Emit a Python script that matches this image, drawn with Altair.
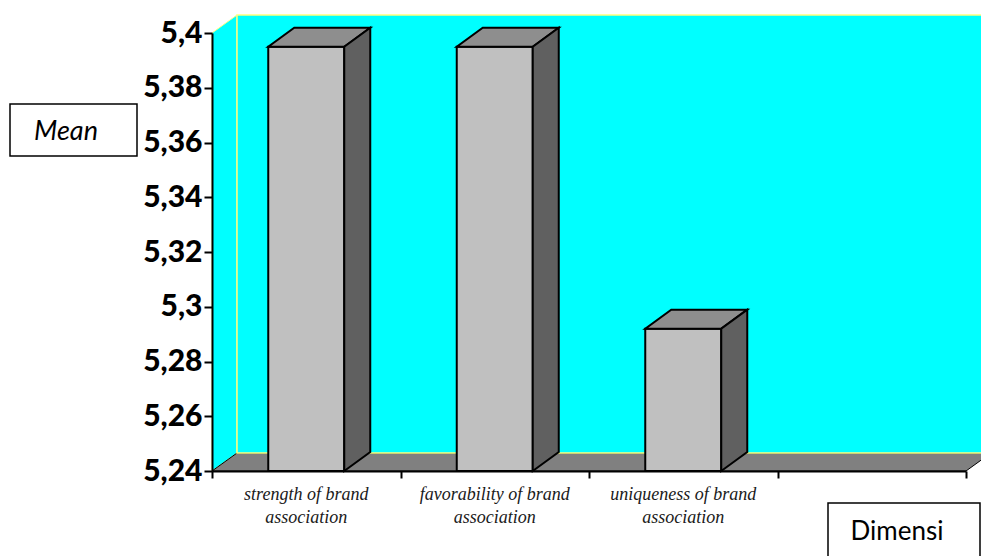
import altair as alt
import pandas as pd

# ---- data -------------------------------------------------------------
label_line1 = ["strength of brand", "favorability of brand", "uniqueness of brand"]
label_line2 = ["association", "association", "association"]
mean_values = [5.395, 5.395, 5.292]
y_ticks = [5.24, 5.26, 5.28, 5.30, 5.32, 5.34, 5.36, 5.38, 5.40]
slot_edges = [0, 1, 2, 3, 4]          # four category slots, the last one empty

# ---- geometry ---------------------------------------------------------
Y_MIN, Y_MAX = 5.24, 5.40
N_SLOTS = 4
PLOT_W, PLOT_H = 754, 438


def px_x(p):
    return p * N_SLOTS / PLOT_W


def px_y(p):
    return p * (Y_MAX - Y_MIN) / PLOT_H


WALL_DX, WALL_DY = px_x(25), px_y(18)
BAR_DX, BAR_DY = px_x(26), px_y(19)
BAR_HALF = px_x(38)

FRONT = "#C0C0C0"
TOP = "#8E8E8E"
SIDE = "#606060"
FLOOR = "#808080"
WALL = "#00FFFF"
EDGE = "#FFFF80"

x_scale = alt.Scale(domain=[0, N_SLOTS], nice=False, zero=False)
y_scale = alt.Scale(domain=[Y_MIN, Y_MAX], nice=False, zero=False)


def X(field="x"):
    return alt.X(f"{field}:Q", scale=x_scale, title=None,
                 axis=alt.Axis(values=slot_edges, labels=False, grid=False,
                               tickSize=7, tickWidth=2, tickColor="black",
                               domainColor="black", domainWidth=2, zindex=1))


def Y(field="y"):
    return alt.Y(f"{field}:Q", scale=y_scale, title=None,
                 axis=alt.Axis(values=y_ticks, grid=False,
                               labelExpr="replace(format(datum.value, '.2~f'), '.', ',')",
                               labelFont="Lato", labelFontWeight=900,
                               labelFontSize=30, labelColor="black",
                               labelPadding=2,
                               tickSize=8, tickWidth=2, tickColor="black",
                               domainColor="black", domainWidth=2, zindex=1))


# ---- room: side wall, floor, back wall --------------------------------
side_wall = pd.DataFrame({
    "x": [0, WALL_DX],
    "y": [Y_MIN, Y_MIN + WALL_DY],
    "y2": [Y_MAX, Y_MAX + WALL_DY],
})
floor = pd.DataFrame({
    "x": [0, WALL_DX, N_SLOTS, N_SLOTS + WALL_DX],
    "y": [Y_MIN, Y_MIN, Y_MIN, Y_MIN + WALL_DY],
    "y2": [Y_MIN, Y_MIN + WALL_DY, Y_MIN + WALL_DY, Y_MIN + WALL_DY],
})
back_wall = pd.DataFrame({
    "x": [WALL_DX], "x2": [N_SLOTS + WALL_DX],
    "y": [Y_MIN + WALL_DY], "y2": [Y_MAX + WALL_DY],
})

side_wall_layer = alt.Chart(side_wall).mark_area(
    fill=WALL, stroke=EDGE, strokeWidth=1
).encode(x=X(), y=Y(), y2="y2:Q")

floor_layer = alt.Chart(floor).mark_area(
    fill=FLOOR, stroke="black", strokeWidth=1
).encode(x=X(), y=Y(), y2="y2:Q")

back_wall_layer = alt.Chart(back_wall).mark_rect(
    fill=WALL, stroke=EDGE, strokeWidth=1.5
).encode(x=X(), x2="x2:Q", y=Y(), y2="y2:Q")

# ---- bars: front, top and side faces ---------------------------------
front_rows, top_rows, side_rows = [], [], []
for i, v in enumerate(mean_values):
    c = i + 0.5
    xl, xr = c - BAR_HALF, c + BAR_HALF
    front_rows.append({"bar": i, "x": xl, "x2": xr, "y": Y_MIN, "y2": v})
    top_rows += [
        {"bar": i, "x": xl, "y": v, "y2": v},
        {"bar": i, "x": xl + BAR_DX, "y": v, "y2": v + BAR_DY},
        {"bar": i, "x": xr, "y": v, "y2": v + BAR_DY},
        {"bar": i, "x": xr + BAR_DX, "y": v + BAR_DY, "y2": v + BAR_DY},
    ]
    side_rows += [
        {"bar": i, "x": xr, "y": Y_MIN, "y2": v},
        {"bar": i, "x": xr + BAR_DX, "y": Y_MIN + BAR_DY, "y2": v + BAR_DY},
    ]

front_layer = alt.Chart(pd.DataFrame(front_rows)).mark_rect(
    fill=FRONT, stroke="black", strokeWidth=2
).encode(x=X(), x2="x2:Q", y=Y(), y2="y2:Q")

top_layer = alt.Chart(pd.DataFrame(top_rows)).mark_area(
    fill=TOP, stroke="black", strokeWidth=2, strokeJoin="miter"
).encode(x=X(), y=Y(), y2="y2:Q", detail="bar:N")

side_layer = alt.Chart(pd.DataFrame(side_rows)).mark_area(
    fill=SIDE, stroke="black", strokeWidth=2, strokeJoin="miter"
).encode(x=X(), y=Y(), y2="y2:Q", detail="bar:N")

# ---- category labels under each slot ---------------------------------
labels = pd.DataFrame({
    "x": [i + 0.5 for i in range(len(label_line1))],
    "label": [f"{a}\n{b}" for a, b in zip(label_line1, label_line2)],
})
label_layer = alt.Chart(labels).mark_text(
    font="Liberation Serif", fontStyle="italic", fontSize=18,
    lineBreak="\n", lineHeight=23, align="center", baseline="alphabetic",
    color="#1a1a1a"
).encode(x=X(), y=alt.value(467), text="label:N")

# ---- axis title boxes --------------------------------------------------
one = pd.DataFrame({"k": [0]})

mean_box = alt.Chart(one).mark_rect(
    fill="white", stroke="black", strokeWidth=1.5
).encode(x=alt.value(-202), x2=alt.value(-75), y=alt.value(71), y2=alt.value(123))
mean_text = alt.Chart(one).mark_text(
    text="Mean", font="Lato", fontStyle="italic", fontSize=27,
    align="center", baseline="middle", color="black"
).encode(x=alt.value(-146), y=alt.value(99))

dim_box = alt.Chart(one).mark_rect(
    fill="white", stroke="black", strokeWidth=1.5
).encode(x=alt.value(616), x2=alt.value(768), y=alt.value(470), y2=alt.value(540))
dim_text = alt.Chart(one).mark_text(
    text="Dimensi", font="Lato", fontSize=26,
    align="center", baseline="middle", color="black"
).encode(x=alt.value(685), y=alt.value(499))

chart = alt.layer(
    side_wall_layer, floor_layer, back_wall_layer,
    front_layer, top_layer, side_layer,
    label_layer, mean_box, mean_text, dim_box, dim_text,
).properties(
    width=PLOT_W, height=PLOT_H,
    padding={"left": 212, "top": 33, "right": 15, "bottom": 85},
    autosize=alt.AutoSizeParams(type="none"),
    background="white",
).configure_view(stroke=None)

chart.save("out.html", embed_options={"renderer": "svg", "actions": False})
